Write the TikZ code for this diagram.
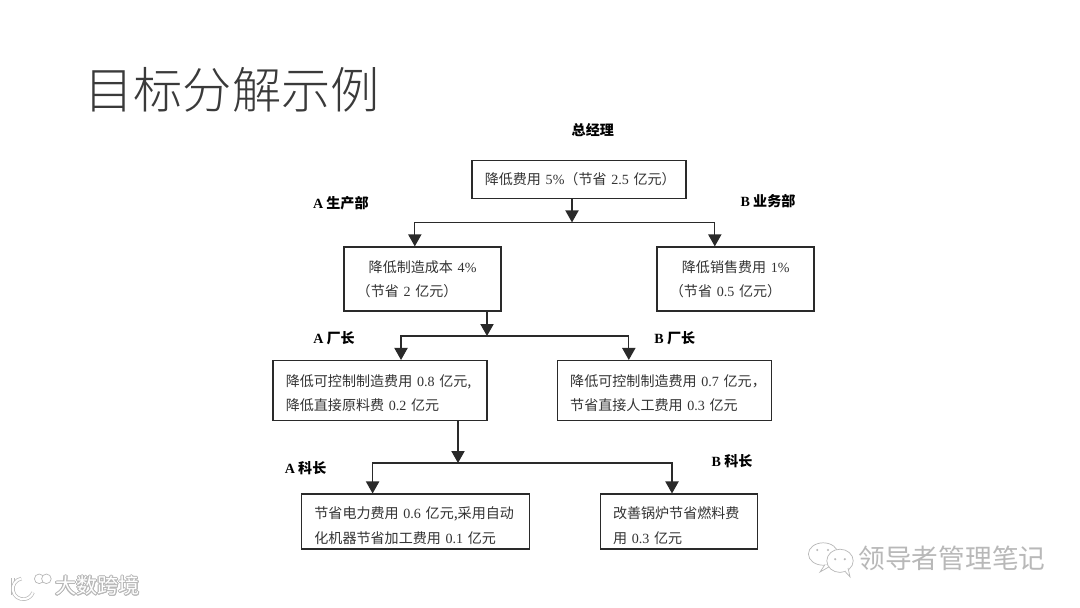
\documentclass[tikz,border=0pt]{standalone}
\usepackage{fontspec}
\usepackage[copies]{contour}
\usetikzlibrary{arrows.meta}
\setmainfont{Noto Sans CJK SC}
\newfontfamily\titlefont{Noto Sans CJK SC Light}
\newfontfamily\latnum{Liberation Serif}
\newcommand{\nr}[1]{{\latnum #1}}
\newcommand{\topgap}[1]{\rule{0pt}{#1}}
\contourlength{.5pt}
\definecolor{inkline}{HTML}{2A2A2A}
\definecolor{titleink}{HTML}{3A3A3A}
\definecolor{markgray}{HTML}{B8B8B8}
\tikzset{
	fact/.style={draw=inkline, line width=.9pt, align=left, inner xsep=.32cm, inner ysep=0pt, text=black!80, font=\fontsize{10}{17}\selectfont},
	factw/.style={minimum width=#1cm, text width=#1cm-.64cm},
	role/.style={inner sep=0pt, text=black, font=\fontsize{10}{12}\selectfont\bfseries},
	flow/.style={line width=.9pt, draw=inkline, -{Triangle[length=.3cm,width=.33cm]}},
	wmark/.style={inner sep=0pt, font=\fontsize{19}{22}\selectfont},
	markline/.style={draw=markgray, line width=.5pt, fill=white},
	logostroke/.style={draw=markgray, line width=.5pt, double=white, double distance=1.5pt}
}
\begin{document}
\begin{tikzpicture}
		\useasboundingbox[fill=white] (0,0) rectangle (27,-15.175);
		
		\node[inner sep=0pt, text=titleink, font=\fontsize{35}{40}\titlefont] (title) at (5.8,-2.25) {目标分解示例};
		
		\node[fact, factw=5.35, minimum height=.95cm] (gm) at (14.475,-4.49) {\mbox{降低费用 \nr{5\%}（节省 \nr{2.5} 亿元）}};
		\node[fact, factw=3.925, minimum height=1.6cm] (prod) at (10.56,-6.975) {\hspace*{.3cm}降低制造成本 \nr{4\%}\\（节省 \nr{2} 亿元）};
		\node[fact, factw=3.925, minimum height=1.6cm] (sales) at (18.39,-6.975) {\hspace*{.3cm}降低销售费用 \nr{1\%}\\（节省 \nr{0.5} 亿元）};
		\node[fact, factw=5.35, minimum height=1.49cm] (fa) at (9.5,-9.76) {\topgap{12.5pt}降低可控制制造费用 \nr{0.8} 亿元,\\降低直接原料费 \nr{0.2} 亿元};
		\node[fact, factw=5.35, minimum height=1.49cm] (fb) at (16.61,-9.76) {\topgap{12.5pt}\mbox{降低可控制制造费用 \nr{0.7} 亿元，}\\节省直接人工费用 \nr{0.3} 亿元};
		\node[fact, factw=5.7, minimum height=1.375cm] (sa) at (10.39,-13.04) {\topgap{14pt}节省电力费用 \nr{0.6} 亿元,采用自动\\[.7pt]化机器节省加工费用 \nr{0.1} 亿元};
		\node[fact, factw=3.93, minimum height=1.375cm] (sb) at (16.97,-13.04) {\topgap{14pt}改善锅炉节省燃料费\\[.7pt]用 \nr{0.3} 亿元};
		
		\node[role] (gmrole) at (14.82,-3.25) {总经理};
		\node[role] (prodrole) at (8.52,-5.08) {\nr{A} 生产部};
		\node[role] (salesrole) at (19.2,-5.03) {\nr{B} 业务部};
		\node[role] (farole) at (8.35,-8.45) {\nr{A} 厂长};
		\node[role] (fbrole) at (16.87,-8.45) {\nr{B} 厂长};
		\node[role] (sarole) at (7.64,-11.7) {\nr{A} 科长};
		\node[role] (sbrole) at (18.3,-11.53) {\nr{B} 科长};
		
		\coordinate (j1) at (14.3,-5.56);
		\coordinate (j2) at (12.175,-8.4);
		\coordinate (j3) at (11.45,-11.575);
		
		\draw[flow] (gm.south -| j1) -- (j1);
		\draw[flow] (j1) -| ([xshift=-.19cm]prod.north);
		\draw[flow] (j1) -| ([xshift=-.52cm]sales.north);
		
		\draw[flow] (prod.south -| j2) -- (j2);
		\draw[flow] (j2) -| ([xshift=.525cm]fa.north);
		\draw[flow] (j2) -| ([xshift=-.89cm]fb.north);
		
		\draw[flow] (fa.south -| j3) -- (j3);
		\draw[flow] (j3) -| ([xshift=-1.075cm]sa.north);
		\draw[flow] (j3) -| ([xshift=-.17cm]sb.north);
		
		% corner marks
		\node[wmark] (leftmark) at (2.44,-14.65) {\fontsize{15}{18}\selectfont\contour{markgray}{\textcolor{white}{大数跨境}}};
		\draw[logostroke] (.33,-14.46) -- (.33,-14.88);
		\draw[logostroke] (.535,-14.464) arc (100:340:.26);
		\draw[markline] (.98,-14.47) circle (.12);
		\draw[markline] (1.16,-14.47) circle (.12);
		
		\node[wmark, text=markgray] (rightmark) at (23.8,-13.97) {领导者管理笔记};
		\draw[markline] (20.58,-13.85) ellipse (.37 and .28);
		\draw[markline] (20.62,-14.12) -- (20.5,-14.3) -- (20.85,-14.1);
		\draw[markline] (21.0,-14.02) ellipse (.33 and .29);
		\draw[markline] (21.12,-14.28) -- (21.25,-14.42) -- (21.2,-14.2);
		\fill[markgray] (20.43,-13.75) circle (.03) (20.7,-13.75) circle (.03) (20.88,-13.98) circle (.03) (21.12,-13.98) circle (.03);
	\end{tikzpicture}
\end{document}
